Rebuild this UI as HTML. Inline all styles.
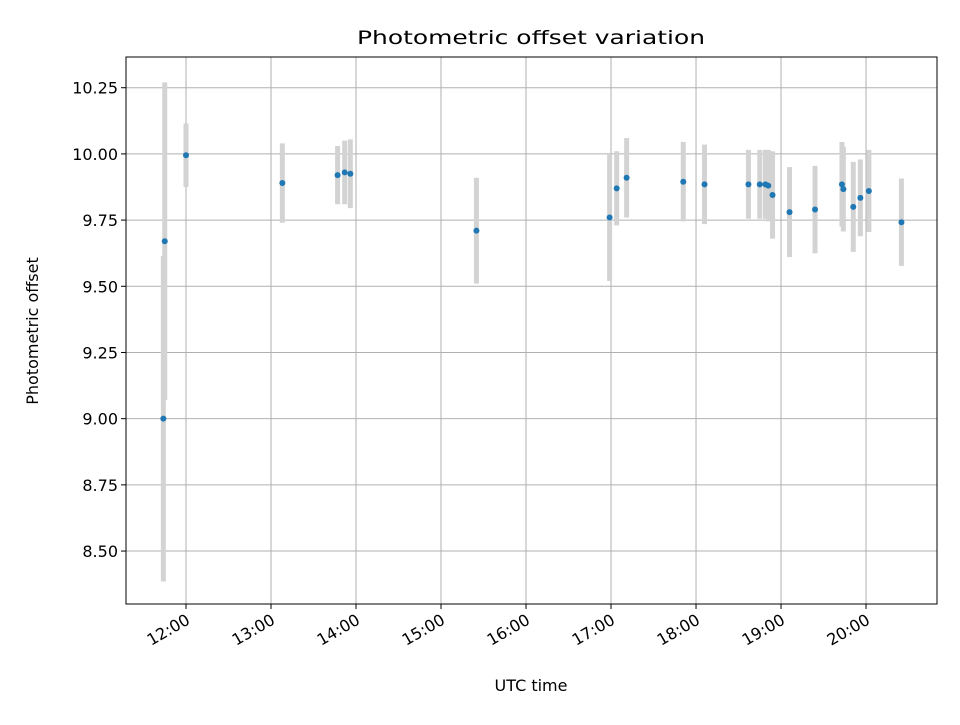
<!DOCTYPE html>
<html><head><meta charset="utf-8"><style>
body{margin:0;background:#fff}
svg text{font-family:"DejaVu Sans","Liberation Sans",sans-serif;fill:#000}
</style></head><body>
<svg id="chart" width="960" height="720" viewBox="0 0 960 720" xmlns="http://www.w3.org/2000/svg">
<rect width="960" height="720" fill="#fff"/>
<text x="357" y="44" font-size="19" textLength="348" lengthAdjust="spacingAndGlyphs">Photometric offset variation</text>
<g id="grid"></g>
<g id="bars"></g>
<g id="pts"></g>
<rect x="126" y="57" width="811" height="547" fill="none" stroke="#000" stroke-width="1"/>
<g id="ticks"></g>
<text x="531" y="691" font-size="16" text-anchor="middle">UTC time</text>
<text transform="translate(38,331) rotate(-90)" font-size="16" text-anchor="middle">Photometric offset</text>
</svg>
<script>
const times=["11:44","11:45","12:00","13:08","13:47","13:52","13:56","15:25","16:59","17:04","17:11","17:51","18:06","18:37","18:45","18:49","18:51","18:54","19:06","19:24","19:43","19:44","19:51","19:56","20:02","20:25"];
const offsets=[9.00,9.67,9.995,9.89,9.92,9.93,9.925,9.71,9.76,9.87,9.91,9.895,9.885,9.885,9.885,9.885,9.88,9.845,9.78,9.79,9.885,9.867,9.80,9.834,9.86,9.742];
const errors=[0.615,0.60,0.12,0.15,0.11,0.12,0.13,0.20,0.24,0.14,0.15,0.15,0.15,0.13,0.13,0.13,0.135,0.165,0.17,0.165,0.16,0.16,0.17,0.145,0.155,0.165];
const xTickLabels=["12:00","13:00","14:00","15:00","16:00","17:00","18:00","19:00","20:00"];
const yTickLabels=["8.50","8.75","9.00","9.25","9.50","9.75","10.00","10.25"];
const NS="http://www.w3.org/2000/svg";
const X0=126,X1=937,Y0=57,Y1=604,XMIN=11.294,XMAX=20.835,YMIN=8.300,YMAX=10.366;
const hrs=s=>{const p=s.split(":");return +p[0]+(+p[1])/60;};
const xs=h=>X0+(h-XMIN)/(XMAX-XMIN)*(X1-X0);
const ys=v=>Y1-(v-YMIN)/(YMAX-YMIN)*(Y1-Y0);
function mk(t,a,parent){const e=document.createElementNS(NS,t);for(const k in a)e.setAttribute(k,a[k]);parent.appendChild(e);return e;}
const grid=document.getElementById('grid'),ticks=document.getElementById('ticks'),bars=document.getElementById('bars'),pts=document.getElementById('pts');
xTickLabels.forEach(l=>{const x=xs(hrs(l));
 const g=mk('line',{x1:x,x2:x,y1:Y0,y2:Y1,stroke:'#b0b0b0','stroke-width':1},grid);
 
 const t=mk('line',{x1:x,x2:x,y1:Y1,y2:Y1+5,stroke:'#000'},ticks);
 
 const tx=mk('text',{x:0,y:0,'font-size':16,'text-anchor':'end',transform:`translate(${x+5},${Y1+19}) rotate(-30)`},ticks);
 tx.textContent=l;});
yTickLabels.forEach(l=>{const y=ys(+l);
 const g=mk('line',{x1:X0,x2:X1,y1:y,y2:y,stroke:'#b0b0b0','stroke-width':1},grid);
 
 const t=mk('line',{x1:X0-5,x2:X0,y1:y,y2:y,stroke:'#000'},ticks);
 
 const tx=mk('text',{x:X0-8,y:y+6,'font-size':16,'text-anchor':'end'},ticks);
 tx.textContent=l;});
times.forEach((s,i)=>{const x=xs(hrs(s));
 const b=mk('line',{x1:x,x2:x,y1:ys(offsets[i]+errors[i]),y2:ys(offsets[i]-errors[i]),stroke:'#d3d3d3','stroke-width':5},bars);
 });
times.forEach((s,i)=>{
 const c=mk('circle',{cx:xs(hrs(s)),cy:ys(offsets[i]),r:3,fill:'#1f77b4'},pts);
 });
</script>
</body></html>
